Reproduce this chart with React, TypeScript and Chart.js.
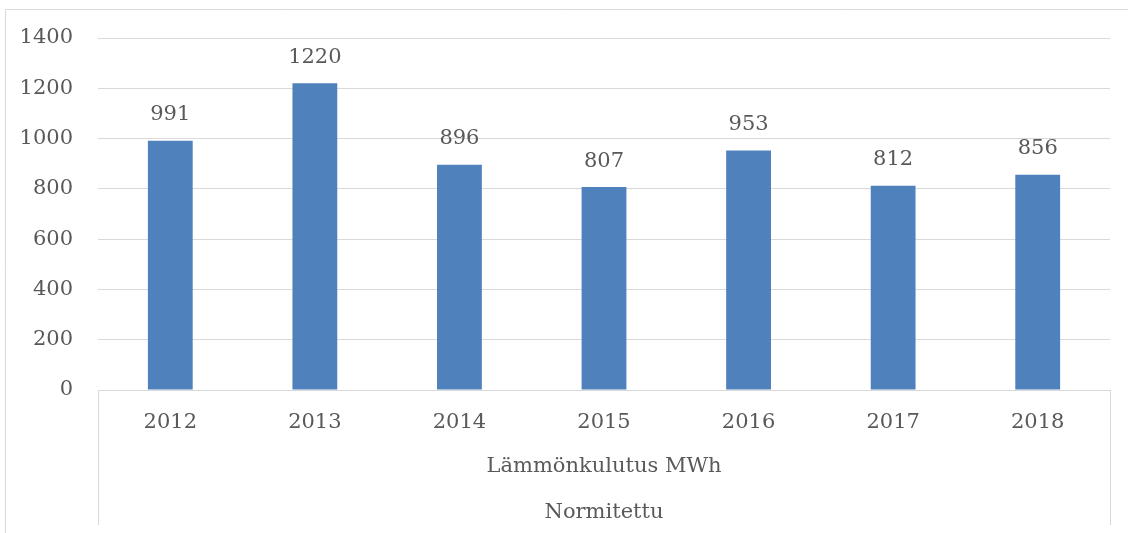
import React, { useEffect, useRef } from "react";
import { Chart, registerables } from "chart.js";

Chart.register(...registerables);

const categories = ["2012", "2013", "2014", "2015", "2016", "2017", "2018"];
const values = [991, 1220, 896, 807, 953, 812, 856];
const groupLabel = "Lämmönkulutus MWh";
const outerLabel = "Normitettu";
const yMax = 1400;
const yStep = 200;

const FONT = "'DejaVu Serif', 'Liberation Serif', serif";
const FS = 21;
const TEXT = "#595959";
const LINE = "#d9d9d9";
const BAR = "#4F81BD";

const decor = {
  id: "decor",
  afterDraw(chart: any) {
    const ctx = chart.ctx;
    const area = chart.chartArea;
    const H = chart.height;
    const W = chart.width;
    ctx.save();
    ctx.strokeStyle = LINE;
    ctx.lineWidth = 1;
    // outer border (left + top visible)
    ctx.beginPath();
    ctx.moveTo(5.5, H);
    ctx.lineTo(5.5, 9.5);
    ctx.lineTo(W, 9.5);
    ctx.stroke();
    // category axis side lines
    const l = Math.round(area.left) + 0.5;
    const r = Math.round(area.right) + 0.5;
    ctx.beginPath();
    ctx.moveTo(l, area.bottom);
    ctx.lineTo(l, area.bottom + 135);
    ctx.moveTo(r, area.bottom);
    ctx.lineTo(r, area.bottom + 135);
    ctx.stroke();
    // multi-level labels
    ctx.fillStyle = TEXT;
    ctx.font = `${FS}px ${FONT}`;
    ctx.textAlign = "center";
    ctx.textBaseline = "middle";
    const cx = (area.left + area.right) / 2;
    ctx.fillText(groupLabel, cx, area.bottom + 77);
    ctx.fillText(outerLabel, cx, area.bottom + 123);
    // data labels
    const meta = chart.getDatasetMeta(0);
    meta.data.forEach((bar: any, i: number) => {
      ctx.fillText(String(values[i]), bar.x, bar.y - 26);
    });
    ctx.restore();
  },
};

export default function App() {
  const ref = useRef<HTMLCanvasElement>(null);
  useEffect(() => {
    document.body.style.margin = "0";
    const chart = new Chart(ref.current!, {
      type: "bar",
      data: {
        labels: categories,
        datasets: [
          {
            data: values,
            backgroundColor: BAR,
            categoryPercentage: 1,
            barPercentage: 0.31,
          },
        ],
      },
      options: {
        animation: false,
        responsive: false,
        layout: { padding: { left: 0, right: 18, top: 38, bottom: 0 } },
        plugins: { legend: { display: false }, tooltip: { enabled: false } },
        scales: {
          x: {
            grid: { display: false },
            border: { display: true, color: LINE, width: 1 },
            ticks: { color: TEXT, font: { family: FONT, size: FS }, padding: 12, maxRotation: 0 },
            afterFit(scale: any) {
              scale.height = 143;
            },
          },
          y: {
            min: 0,
            max: yMax,
            ticks: {
              stepSize: yStep,
              color: TEXT,
              font: { family: FONT, size: FS },
              padding: 25,
              callback: (v: any) => String(v),
            },
            grid: { color: LINE, drawTicks: false, lineWidth: 1 },
            border: { display: false },
            afterFit(scale: any) {
              scale.width = 98;
            },
          },
        },
      },
      plugins: [decor],
    });
    return () => chart.destroy();
  }, []);
  return <canvas ref={ref} width={1128} height={533} style={{ display: "block" }} />;
}
